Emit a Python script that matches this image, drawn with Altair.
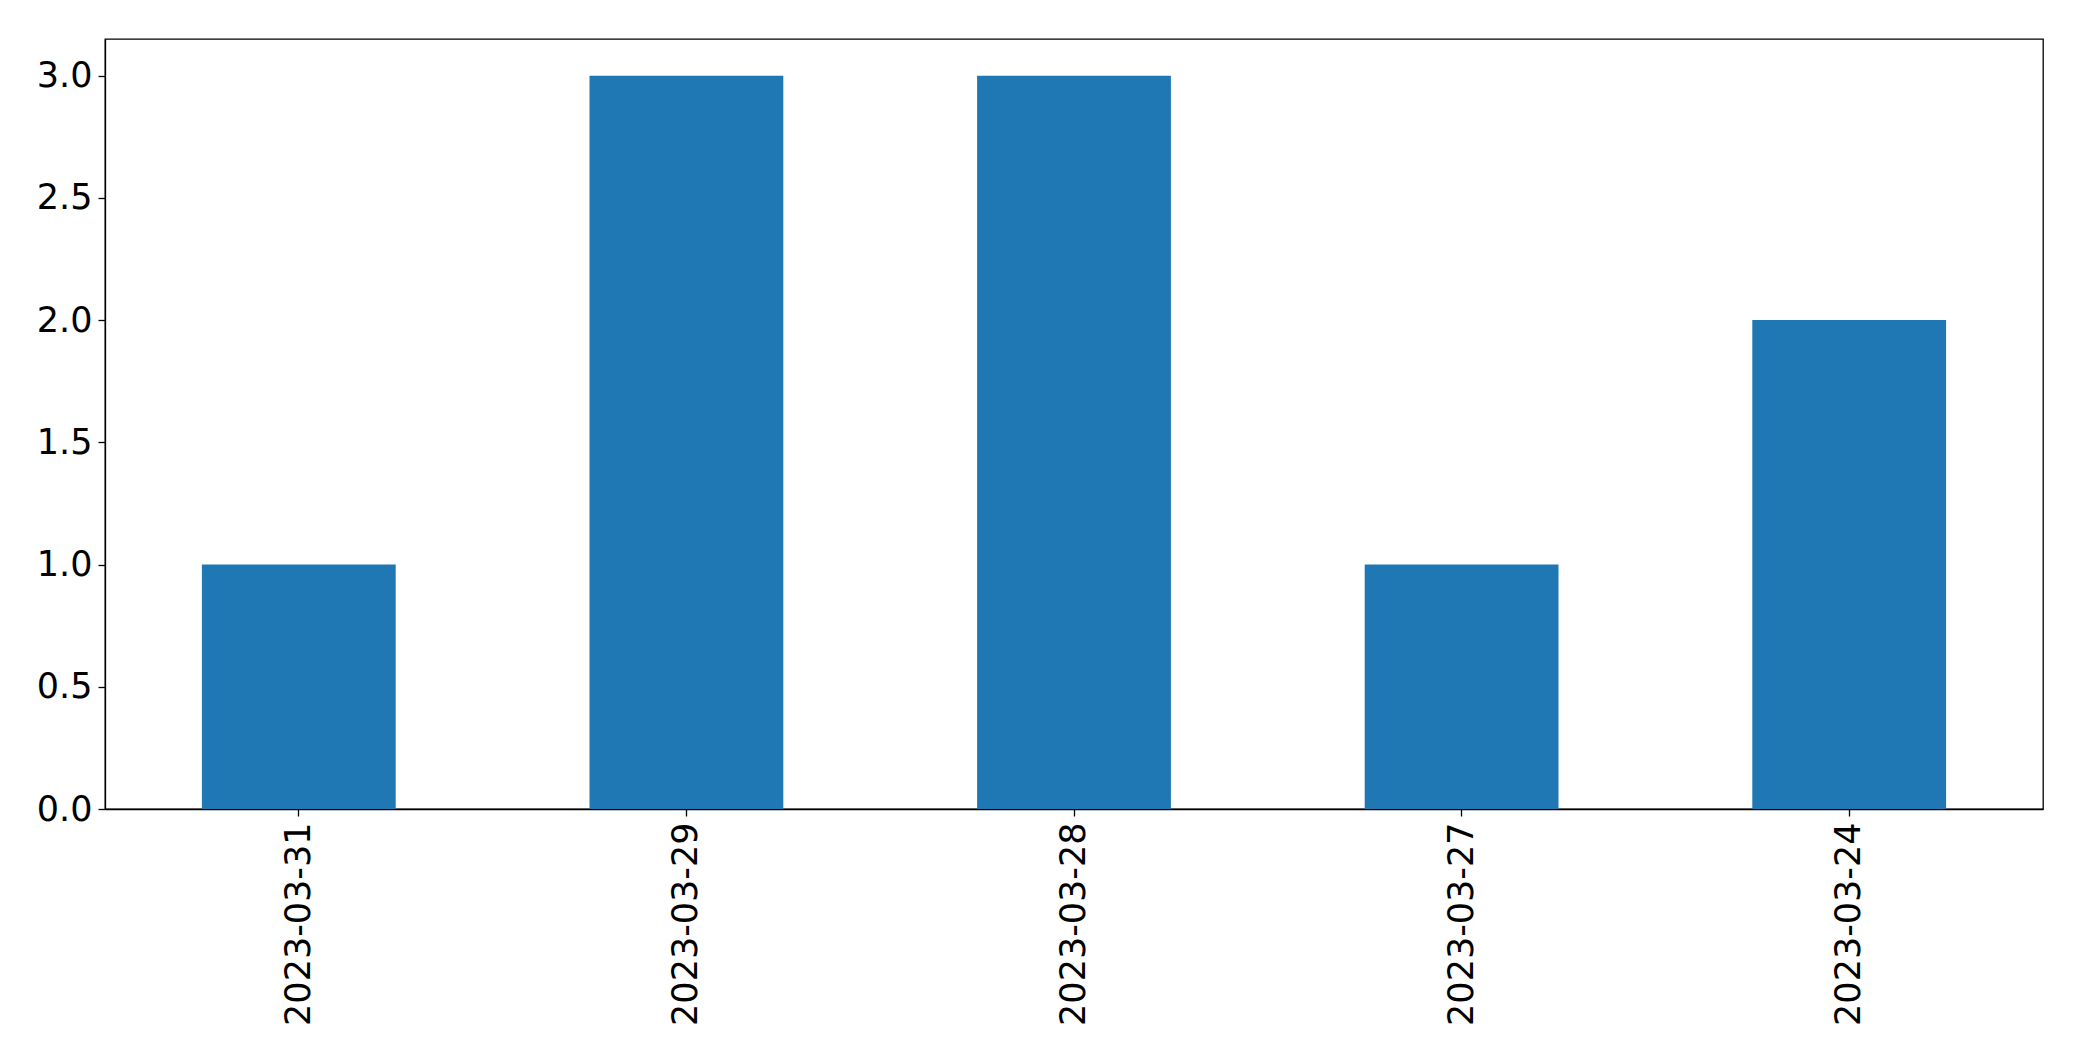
import altair as alt
import pandas as pd

dates = ["2023-03-31", "2023-03-29", "2023-03-28", "2023-03-27", "2023-03-24"]
counts = [1, 3, 3, 1, 2]
y_ticks = [0.0, 0.5, 1.0, 1.5, 2.0, 2.5, 3.0]

df = pd.DataFrame({"date": dates, "count": counts})

font = "DejaVu Sans"

chart = alt.Chart(df).mark_bar(color="#1f77b4").encode(
    x=alt.X("date:N", sort=dates, title=None,
            scale=alt.Scale(paddingInner=0.5, paddingOuter=0.25),
            axis=alt.Axis(labelAngle=-90, labelFontSize=35, labelFont=font,
                          labelColor="black", tickColor="black", tickSize=7,
                          tickWidth=1.3, labelPadding=6, domainColor="black",
                          domainWidth=1.3, labelAlign="right", labelBaseline="middle",
                          labelLimit=0)),
    y=alt.Y("count:Q", title=None,
            scale=alt.Scale(domain=[0, 3.15], nice=False),
            axis=alt.Axis(values=y_ticks, format=".1f", labelFontSize=35,
                          labelFont=font, labelColor="black", tickColor="black",
                          tickSize=7, tickWidth=1.3, labelPadding=6, grid=False,
                          domainColor="black", domainWidth=1.3)),
).properties(
    width=1938, height=770,
    background="white",
    autosize=alt.AutoSizeParams(type="none"),
    padding={"left": 97, "top": 31, "right": 31, "bottom": 244},
).configure_view(
    stroke="black", strokeWidth=1.3
)

chart.save("out.html", embed_options={"renderer": "svg", "actions": False})
